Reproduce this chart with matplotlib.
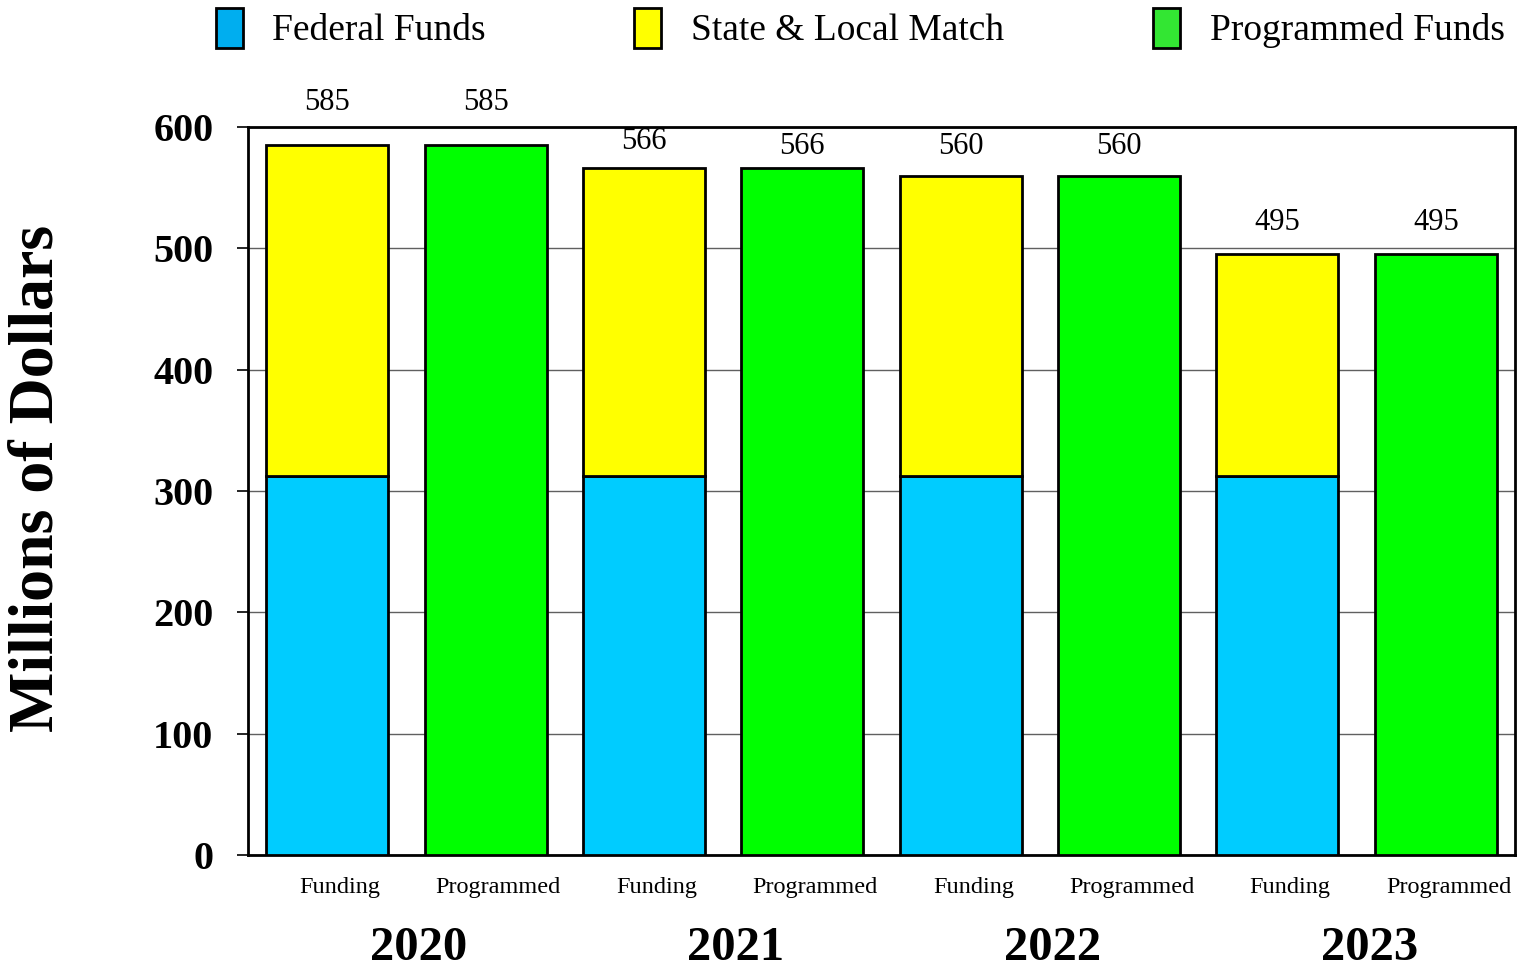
import matplotlib.pyplot as plt
import numpy as np
from matplotlib.patches import Patch
from matplotlib.transforms import blended_transform_factory, offset_copy

plt.rcParams['font.family'] = ['Liberation Serif', 'DejaVu Serif']

years = ['2020', '2021', '2022', '2023']
bar_kinds = ['Funding', 'Programmed']
federal = np.array([312, 312, 312, 312])
state_local = np.array([273, 254, 248, 183])
programmed = np.array([585, 566, 560, 495])
# label offsets above bar tops (pixels), as placed in the original
label_off = [43, 43, 27, 22, 29, 29, 32, 32]

fig = plt.figure(figsize=(15.23, 9.67), dpi=100)
ax = fig.add_axes([248/1523, 1-855/967, (1515-248)/1523, (855-127)/967])

xf = np.arange(len(years)) * 2
xp = xf + 1
w = 0.77
ax.bar(xf, federal, width=w, color='#00CCFF', edgecolor='black', linewidth=2, zorder=3)
ax.bar(xf, state_local, bottom=federal, width=w, color='#FFFF00', edgecolor='black', linewidth=2, zorder=3)
ax.bar(xp, programmed, width=w, color='#00FF00', edgecolor='black', linewidth=2, zorder=3)

totals = federal + state_local
xs = np.ravel(np.column_stack([xf, xp]))
vals = np.ravel(np.column_stack([totals, programmed]))
for i, (x, v) in enumerate(zip(xs, vals)):
    tr = offset_copy(ax.transData, fig=fig, x=0, y=label_off[i]*0.72, units='points')
    ax.text(x, v, str(v), transform=tr, ha='center', va='center', fontsize=22)

ax.set_xlim(-0.5, 7.5)
ax.set_ylim(0, 600)
ax.set_yticks(np.arange(0, 601, 100))
ax.tick_params(axis='y', labelsize=29, length=8, width=1.2, pad=17)
for t in ax.get_yticklabels():
    t.set_fontweight('bold')
ax.set_xticks([])
ax.yaxis.grid(True, color='#606060', linewidth=1, zorder=0)
for s in ax.spines.values():
    s.set_linewidth(2)

tb = blended_transform_factory(ax.transData, fig.transFigure)
for x in xs:
    kind = bar_kinds[int(x) % 2]
    ax.text(x + 0.08, 1-887/967, kind, transform=tb, ha='center', va='center', fontsize=17.5)
for i, y in enumerate(years):
    ax.text(xf[i] + 0.58, 1-948/967, y, transform=tb, ha='center', va='center',
            fontsize=35, fontweight='bold')

fig.text(38/1523, 1-478/967, 'Millions of Dollars', rotation=90, ha='center', va='center',
         fontsize=46, fontweight='bold')

handles = [Patch(facecolor='#00AEEF', edgecolor='black', linewidth=2, label='Federal Funds'),
           Patch(facecolor='#FFFF00', edgecolor='black', linewidth=2, label='State & Local Match'),
           Patch(facecolor='#33E633', edgecolor='black', linewidth=2, label='Programmed Funds')]
fig.legend(handles=handles, loc='center', bbox_to_anchor=(860/1523, 1-28/967), ncol=3,
           frameon=False, fontsize=27, handlelength=0.72, handleheight=1.3,
           handletextpad=0.8, columnspacing=3.95, borderpad=0)

fig.savefig('out.png', dpi=100)
